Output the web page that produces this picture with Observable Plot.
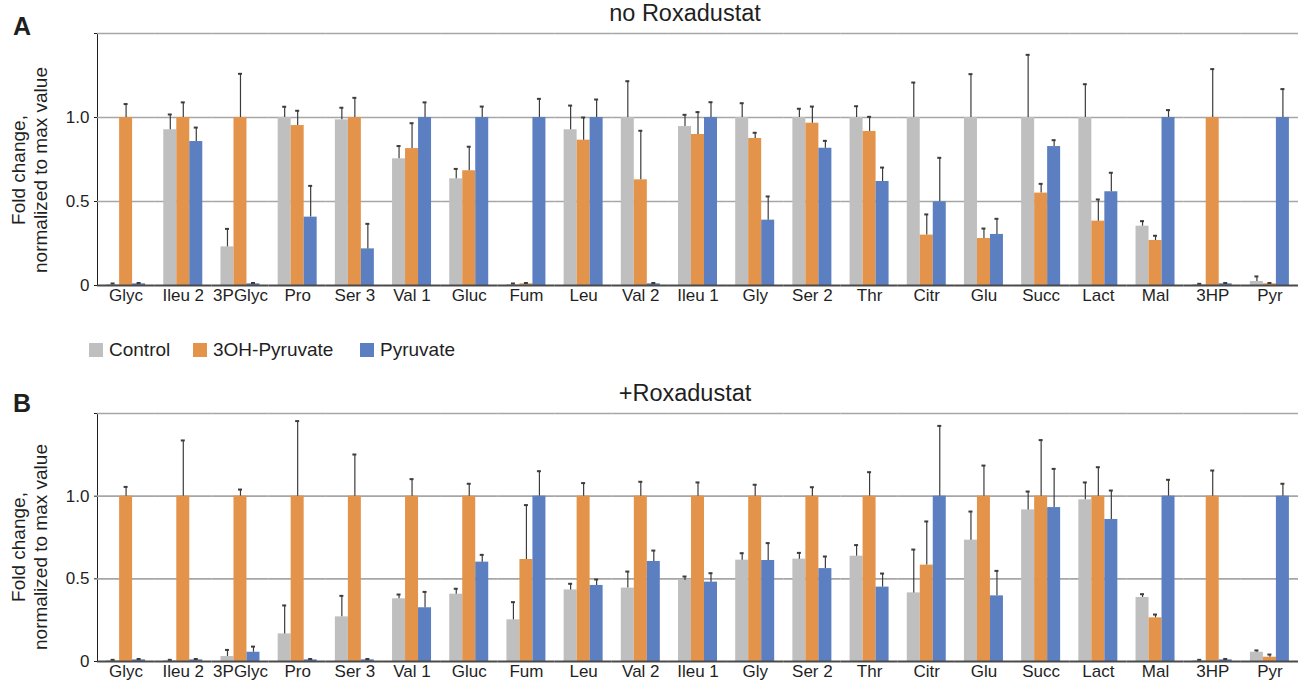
<!DOCTYPE html>
<html>
<head>
<meta charset="utf-8">
<script src="https://cdn.jsdelivr.net/npm/d3@7"></script>
<script src="https://cdn.jsdelivr.net/npm/@observablehq/plot@0.6"></script>
<style>
  html, body { margin: 0; padding: 0; background: #fff; }
  body { font-family: "Liberation Sans", Arial, sans-serif; color: #1f1f1f; }
  #root { position: relative; width: 1299px; height: 684px; overflow: hidden; }
  .abs { position: absolute; }
  .letter { font-weight: bold; font-size: 25px; }
  .title { font-size: 23.5px; white-space: nowrap; transform: translateX(-50%); }
  .ylab { font-size: 19px; line-height: 22px; text-align: center; width: 260px; height: 44px; transform: rotate(-90deg); transform-origin: 50% 50%; }
  .leg { font-size: 19px; display: flex; align-items: center; white-space: nowrap; }
  .sw { width: 14px; height: 14px; margin-right: 6px; display: inline-block; }
</style>
</head>
<body>
<div id="root"></div>
<script>
const categories = ["Glyc","Ileu 2","3PGlyc","Pro","Ser 3","Val 1","Gluc","Fum","Leu","Val 2","Ileu 1","Gly","Ser 2","Thr","Citr","Glu","Succ","Lact","Mal","3HP","Pyr"];
const seriesNames = ["Control","3OH-Pyruvate","Pyruvate"];
const seriesColors = ["#bfbfbf","#e3944a","#5b7fc0"];
const yTicks = [0, 0.5, 1.0, 1.5];
const yTickLabels = ["0", "0.5", "1.0", ""];

// Panel A: no Roxadustat (bar value and upper end of error bar)
const ctrlA   = [0.005,0.927,0.23,1.0,0.986,0.754,0.635,0.005,0.927,1.0,0.946,1.0,1.0,1.0,1.0,1.0,1.0,1.0,0.353,0.005,0.024];
const ctrlAHi = [0.012,1.018,0.337,1.064,1.058,0.83,0.694,0.012,1.071,1.216,1.016,1.085,1.052,1.067,1.208,1.258,1.373,1.198,0.383,0.01,0.054];
const ohA     = [1.0,1.0,1.0,0.952,1.0,0.815,0.683,0.01,0.865,0.629,0.899,0.875,0.966,0.917,0.3,0.28,0.55,0.383,0.268,1.0,0.01];
const ohAHi   = [1.08,1.09,1.26,1.04,1.117,0.966,0.826,0.015,1.0,0.921,1.032,0.909,1.065,1.004,0.423,0.339,0.605,0.512,0.296,1.288,0.015];
const pyrA    = [0.01,0.857,0.01,0.407,0.218,1.0,1.0,1.0,1.0,0.01,1.0,0.389,0.817,0.619,0.498,0.304,0.827,0.558,1.0,0.01,1.0];
const pyrAHi  = [0.015,0.94,0.015,0.593,0.367,1.09,1.065,1.111,1.107,0.015,1.091,0.53,0.861,0.702,0.76,0.397,0.865,0.671,1.044,0.015,1.169];

// Panel B: +Roxadustat
const ctrlB   = [0.005,0.005,0.03,0.167,0.27,0.379,0.407,0.252,0.433,0.444,0.49,0.613,0.619,0.637,0.415,0.734,0.917,0.978,0.387,0.005,0.056];
const ctrlBHi = [0.01,0.01,0.07,0.339,0.397,0.405,0.44,0.359,0.47,0.544,0.514,0.655,0.657,0.704,0.677,0.907,1.028,1.083,0.407,0.01,0.067];
const ohB     = [1,1,1,1,1,1,1,0.617,1,1,1,1,1,1,0.583,1,1,1,0.264,1,0.026];
const ohBHi   = [1.056,1.337,1.04,1.454,1.252,1.103,1.075,0.946,1.079,1.087,1.083,1.069,1.054,1.145,0.847,1.185,1.339,1.175,0.284,1.155,0.042];
const pyrB    = [0.01,0.01,0.056,0.01,0.01,0.325,0.601,1.0,0.46,0.605,0.48,0.611,0.562,0.45,1.0,0.397,0.931,0.859,1.0,0.01,1.0];
const pyrBHi  = [0.015,0.015,0.09,0.015,0.015,0.421,0.645,1.151,0.496,0.671,0.534,0.716,0.635,0.532,1.425,0.548,1.165,1.034,1.099,0.015,1.075];

function buildRows(vals, his) {
  const rows = [];
  categories.forEach((c, i) => {
    seriesNames.forEach((s, j) => rows.push({cat: c, series: s, value: vals[j][i], hi: his[j][i]}));
  });
  return rows;
}

function panel(rows, height, marginBottom) {
  return Plot.plot({
    width: 1299,
    height,
    marginLeft: 97,
    marginRight: 1,
    marginTop: 33,
    marginBottom,
    style: {fontSize: "17px", fontFamily: "'Liberation Sans', Arial, sans-serif", color: "#1f1f1f", background: "white", overflow: "visible"},
    facet: {data: rows, x: "cat"},
    fx: {domain: categories, padding: 0, round: false, label: null, tickSize: 0, tickPadding: 3},
    x: {domain: seriesNames, paddingInner: 0, paddingOuter: 0.7, round: false, axis: null},
    y: {domain: [0, 1.5], ticks: yTicks, tickFormat: d => yTickLabels[yTicks.indexOf(d)], tickSize: 3, tickPadding: 5, label: null, line: true},
    color: {domain: seriesNames, range: seriesColors},
    marks: [
      Plot.ruleY([0.5, 1.0, 1.5], {stroke: "#a6a6a6", strokeWidth: 1.6}),
      Plot.barY(rows, {x: "series", y: "value", fill: "series"}),
      Plot.ruleX(rows, {x: "series", y1: "value", y2: "hi", stroke: "#3c3c3c", strokeWidth: 1.2}),
      Plot.tickY(rows, {x: "series", y: "hi", stroke: "#3c3c3c", strokeWidth: 2, insetLeft: 4.5, insetRight: 4.5}),
      Plot.ruleY([0], {stroke: "#4a4a4a", strokeWidth: 2})
    ]
  });
}

const root = document.getElementById("root");
function addDiv(cls, text, style) {
  const d = document.createElement("div");
  d.className = "abs " + cls;
  if (text != null) d.innerHTML = text;
  Object.assign(d.style, style);
  root.appendChild(d);
  return d;
}

const rowsA = buildRows([ctrlA, ohA, pyrA], [ctrlAHi, ohAHi, pyrAHi]);
const rowsB = buildRows([ctrlB, ohB, pyrB], [ctrlBHi, ohBHi, pyrBHi]);

const chartA = panel(rowsA, 310, 25);
chartA.style.position = "absolute"; chartA.style.left = "0px"; chartA.style.top = "0px";
root.appendChild(chartA);

const chartB = panel(rowsB, 304, 23);
chartB.style.position = "absolute"; chartB.style.left = "0px"; chartB.style.top = "380px";
root.appendChild(chartB);

// Panel letters and titles
addDiv("letter", "A", {left: "13px", top: "12px"});
addDiv("letter", "B", {left: "13px", top: "389px"});
addDiv("title", "no Roxadustat", {left: "685px", top: "0px"});
addDiv("title", "+Roxadustat", {left: "685px", top: "380px"});

// Y labels
addDiv("ylab", "Fold change,<br>normalized to max value", {left: (30 - 130) + "px", top: (170 - 22) + "px"});
addDiv("ylab", "Fold change,<br>normalized to max value", {left: (30 - 130) + "px", top: (547 - 22) + "px"});

// Legend
const legendLeft = [89, 193, 360];
seriesNames.forEach((s, i) => {
  addDiv("leg", `<span class="sw" style="background:${seriesColors[i]}"></span>${s}`, {left: legendLeft[i] + "px", top: "339px"});
});
</script>
</body>
</html>
